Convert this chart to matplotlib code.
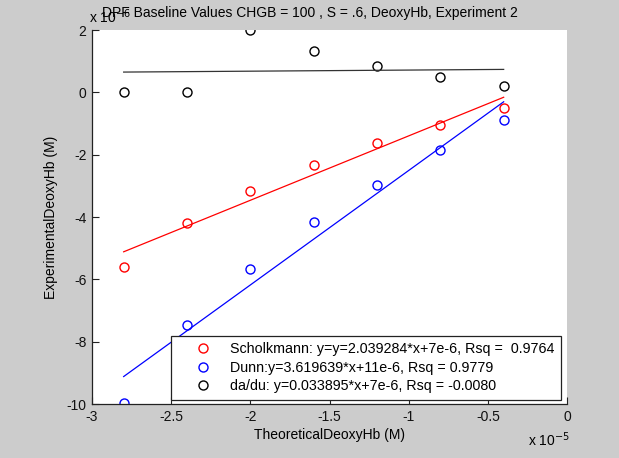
import numpy as np
import matplotlib
matplotlib.use("Agg")
import matplotlib.pyplot as plt

# data (x in units of 1e-5 M, y in units of 1e-6 M)
theoretical = [-2.8, -2.4, -2.0, -1.6, -1.2, -0.8, -0.4]
scholkmann = [-5.60, -4.19, -3.17, -2.33, -1.63, -1.04, -0.50]
dunn = [-9.97, -7.46, -5.67, -4.16, -2.97, -1.86, -0.89]
dadu = [0.0, 0.0, 2.0, 1.33, 0.84, 0.48, 0.20]

labels = [
    "Scholkmann: y=y=2.039284*x+7e-6, Rsq =  0.9764",
    "Dunn:y=3.619639*x+11e-6, Rsq = 0.9779",
    "da/du: y=0.033895*x+7e-6, Rsq = -0.0080",
]
colors = ["#ff0000", "#0000ff", "#000000"]

plt.rcParams["font.family"] = ["Liberation Sans", "DejaVu Sans"]
plt.rcParams["axes.unicode_minus"] = False

fig = plt.figure(figsize=(6.19, 4.58), dpi=100, facecolor="#cccccc")
ax = fig.add_axes([92 / 619, 54 / 458, 475 / 619, 374 / 458])
ax.set_facecolor("white")

x = np.array(theoretical)
handles = []
for ys, c, lab in zip([scholkmann, dunn, dadu], colors, labels):
    ys = np.array(ys)
    h, = ax.plot(x, ys, "o", mfc="none", mec=c, ms=6.5, mew=1.0, label=lab)
    handles.append(h)
    # least squares fit line
    k, b = np.polyfit(x, ys, 1)
    lc = c if c != "#000000" else "#333333"
    ax.plot(x, k * x + b, "-", color=lc, lw=0.9)

ax.set_xlim(-3, 0)
ax.set_ylim(-10, 2)
ax.set_xticks([-3, -2.5, -2, -1.5, -1, -0.5, 0])
ax.set_xticklabels(["-3", "-2.5", "-2", "-1.5", "-1", "-0.5", "0"])
ax.set_yticks([-10, -8, -6, -4, -2, 0, 2])
ax.set_yticklabels(["-10", "-8", "-6", "-4", "-2", "0", "2"])
ax.tick_params(direction="in", length=5, width=0.8, labelsize=10, pad=4,
               colors="#222222", labelcolor="#111111")
for s in ["top", "right"]:
    ax.spines[s].set_visible(False)
for s in ["left", "bottom"]:
    ax.spines[s].set_color("#222222")
    ax.spines[s].set_linewidth(0.9)

ax.set_xlabel("TheoreticalDeoxyHb (M)", fontsize=10, labelpad=3)
ax.set_ylabel("ExperimentalDeoxyHb (M)", fontsize=10, labelpad=6)

fig.text(89 / 619, 1 - 17 / 458, "x 10$^{-6}$", fontsize=10, va="center", ha="left")
fig.text(528 / 619, 1 - 440 / 458, "x 10$^{-5}$", fontsize=10, va="center", ha="left")
fig.text(310 / 619, 1 - 13 / 458,
         "DPF Baseline Values CHGB = 100 , S = .6, DeoxyHb, Experiment 2",
         fontsize=10, ha="center", va="center")

leg = ax.legend(handles=handles, loc="lower right",
                bbox_to_anchor=(0.987, 0.012), prop={"size": 10.3},
                frameon=True, fancybox=False, framealpha=1,
                edgecolor="#222222", handlelength=3.6, handletextpad=0.1,
                labelspacing=0.3, borderpad=0.45, borderaxespad=0)
leg.get_frame().set_linewidth(0.9)

fig.savefig("out.png", dpi=100, facecolor=fig.get_facecolor())
